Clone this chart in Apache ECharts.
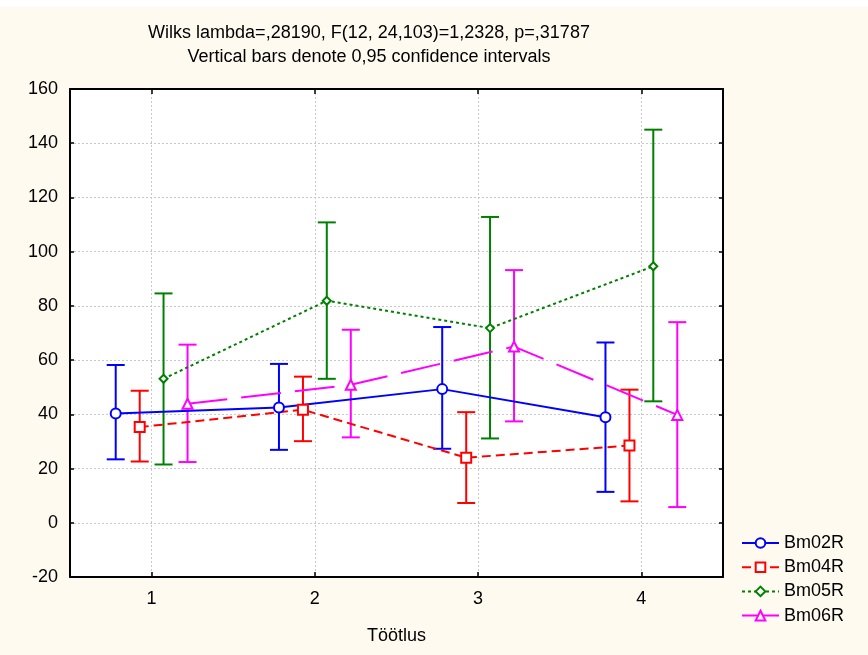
<!DOCTYPE html>
<html>
<head>
<meta charset="utf-8">
<script src="https://cdn.jsdelivr.net/npm/echarts@6/dist/echarts.min.js"></script>
<style>
  html, body { margin: 0; padding: 0; background: #ffffff; }
  #chart {
    width: 868px; height: 655px;
    background: linear-gradient(#ffffff 0, #ffffff 7px, #fefaef 7px);
  }
</style>
</head>
<body>
<div id="chart"></div>
<script>
// Treatment levels on the x axis
const categories = ['1', '2', '3', '4'];
const categoryValues = [1, 2, 3, 4];

// Series names
const seriesNames = ['Bm02R', 'Bm04R', 'Bm05R', 'Bm06R'];

// Means and 0.95 confidence limits per treatment level
const bm02Mean = [40.3, 42.5, 49.3, 38.9];
const bm02Low  = [23.4, 26.9, 27.3, 11.4];
const bm02High = [58.2, 58.6, 72.2, 66.5];

const bm04Mean = [35.3, 41.7, 24.0, 28.5];
const bm04Low  = [22.6, 30.1, 7.3, 7.9];
const bm04High = [48.7, 53.9, 40.8, 49.1];

const bm05Mean = [53.1, 81.9, 71.8, 94.6];
const bm05Low  = [21.5, 53.1, 31.1, 44.8];
const bm05High = [84.6, 110.8, 112.8, 145.0];

const bm06Mean = [43.9, 50.9, 65.0, 39.8];
const bm06Low  = [22.4, 31.5, 37.4, 5.8];
const bm06High = [65.7, 71.2, 93.2, 74.0];

// Y axis ticks
const yTicks = [-20, 0, 20, 40, 60, 80, 100, 120, 140, 160];

const titleLines = [
  'Wilks lambda=,28190, F(12, 24,103)=1,2328, p=,31787',
  'Vertical bars denote 0,95 confidence intervals'
];
const xAxisName = 'Töötlus';

// Styling per series (side-by-side dodge keeps the bars from overlapping)
const styles = [
  { color: '#0000ff', symbol: 'circle',   size: 10, dash: 'solid',  dodge: -0.22  },
  { color: '#ff0000', symbol: 'rect',     size: 10, dash: [9, 5],   dodge: -0.073 },
  { color: '#008000', symbol: 'diamond',  size: 8,  dash: [3, 3],   dodge: 0.073  },
  { color: '#ff00ff', symbol: 'triangle', size: 10, dash: [40, 14], dodge: 0.22   }
];

const means = [bm02Mean, bm04Mean, bm05Mean, bm06Mean];
const lows  = [bm02Low, bm04Low, bm05Low, bm06Low];
const highs = [bm02High, bm04High, bm05High, bm06High];

const FONT = '"Liberation Sans", Arial, sans-serif';

const chart = echarts.init(document.getElementById('chart'), null, { renderer: 'canvas' });

const series = [];
seriesNames.forEach((name, k) => {
  const st = styles[k];
  // confidence interval whiskers
  series.push({
    type: 'custom',
    name: name + ' CI',
    z: 2,
    silent: true,
    encode: { x: 0, y: [1, 2] },
    data: categoryValues.map((c, i) => [c + st.dodge, lows[k][i], highs[k][i]]),
    renderItem(params, api) {
      const x = api.value(0);
      const lo = api.coord([x, api.value(1)]);
      const hi = api.coord([x, api.value(2)]);
      const hw = 9;
      const s = { stroke: st.color, lineWidth: 2 };
      return {
        type: 'group',
        children: [
          { type: 'line', shape: { x1: lo[0], y1: lo[1], x2: hi[0], y2: hi[1] }, style: s },
          { type: 'line', shape: { x1: lo[0] - hw, y1: lo[1], x2: lo[0] + hw, y2: lo[1] }, style: s },
          { type: 'line', shape: { x1: hi[0] - hw, y1: hi[1], x2: hi[0] + hw, y2: hi[1] }, style: s }
        ]
      };
    }
  });
  // mean profile line
  series.push({
    type: 'line',
    name: name,
    z: 3,
    symbol: st.symbol,
    symbolSize: st.size,
    showAllSymbol: true,
    animation: false,
    data: categoryValues.map((c, i) => [c + st.dodge, means[k][i]]),
    lineStyle: { color: st.color, width: 2, type: st.dash },
    itemStyle: { color: '#ffffff', borderColor: st.color, borderWidth: 2 }
  });
});

const gridLine = { show: true, lineStyle: { color: '#c8c8c8', width: 1, type: [2, 2] } };

const option = {
  animation: false,
  textStyle: { fontFamily: FONT },
  grid: {
    left: 70, top: 89, right: 145, bottom: 78,
    show: true, backgroundColor: '#ffffff', borderWidth: 0
  },
  xAxis: [
    {
      type: 'value', min: 0.5, max: 4.5, position: 'bottom',
      name: xAxisName, nameLocation: 'middle', nameGap: 50,
      nameTextStyle: { fontSize: 18, color: '#000', fontFamily: FONT },
      axisLine: { show: true, onZero: false, lineStyle: { color: '#000', width: 2 } },
      axisTick: { show: true, inside: true, length: 5, customValues: categoryValues, lineStyle: { color: '#000', width: 1.5 } },
      axisLabel: {
        show: true, customValues: categoryValues, margin: 13,
        fontSize: 18, color: '#000', fontFamily: FONT,
        formatter: v => categories[categoryValues.indexOf(Math.round(v))] || ''
      },
      splitLine: gridLine
    },
    {
      type: 'value', min: 0.5, max: 4.5, position: 'top',
      axisLine: { show: true, onZero: false, lineStyle: { color: '#000', width: 2 } },
      axisTick: { show: true, inside: true, length: 5, customValues: categoryValues, lineStyle: { color: '#000', width: 1.5 } },
      axisLabel: { show: false },
      splitLine: { show: false }
    }
  ],
  yAxis: [
    {
      type: 'value', min: -20, max: 160, interval: 20, position: 'left',
      axisLine: { show: true, onZero: false, lineStyle: { color: '#000', width: 2 } },
      axisTick: { show: true, inside: true, length: 4, lineStyle: { color: '#000', width: 1.5 } },
      axisLabel: { margin: 12, fontSize: 18, color: '#000', fontFamily: FONT },
      splitLine: gridLine
    },
    {
      type: 'value', min: -20, max: 160, interval: 20, position: 'right',
      axisLine: { show: true, onZero: false, lineStyle: { color: '#000', width: 2 } },
      axisTick: { show: true, inside: true, length: 4, lineStyle: { color: '#000', width: 1.5 } },
      axisLabel: { show: false },
      splitLine: { show: false }
    }
  ],
  legend: {
    data: seriesNames,
    orient: 'vertical',
    left: 741, top: 533, padding: 0,
    itemWidth: 37, itemHeight: 12, itemGap: 4.2,
    textStyle: { fontSize: 18, lineHeight: 20, color: '#000', fontFamily: FONT },
    selectedMode: false
  },
  graphic: [
    {
      type: 'text', x: 369, y: 33,
      style: { text: titleLines[0], font: '18px ' + FONT, fill: '#000', align: 'center', verticalAlign: 'middle' }
    },
    {
      type: 'text', x: 369, y: 57,
      style: { text: titleLines[1], font: '18px ' + FONT, fill: '#000', align: 'center', verticalAlign: 'middle' }
    }
  ],
  series: series
};

chart.setOption(option);
</script>
</body>
</html>
